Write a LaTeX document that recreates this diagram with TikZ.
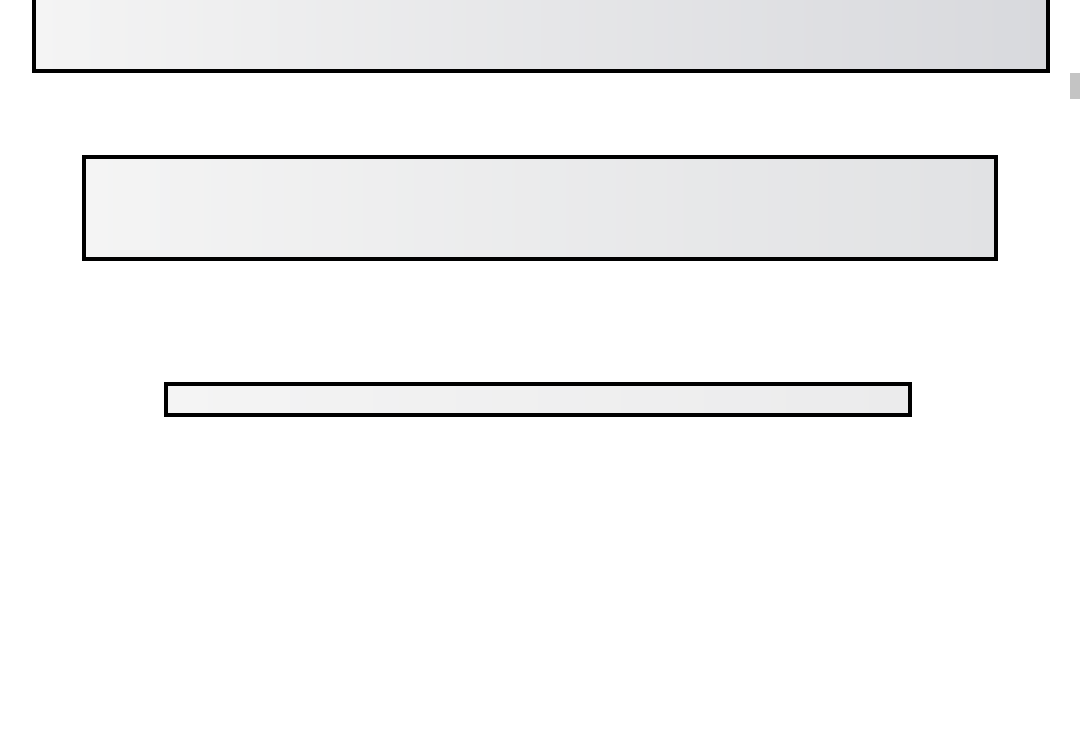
\documentclass[tikz,border=0pt]{standalone}
\usetikzlibrary{positioning}
\usetikzlibrary{shadings}
\tikzstyle{panel}=[rectangle,draw=black,line width=4pt,inner sep=0pt]
\tikzstyle{tabmark}=[rectangle,fill=black!23,inner sep=0pt]
\definecolor{paneldark}{HTML}{D8D9DD}
\definecolor{panelmid}{HTML}{E1E2E4}
\definecolor{panellight}{HTML}{F4F4F4}
\definecolor{panelsoft}{HTML}{EBEBEC}

\begin{document}
\begin{tikzpicture}[x=1pt,y=-1pt]

  \useasboundingbox (0,0) rectangle (1080,740);
  \clip (0,0) rectangle (1080,740);

   \foreach \x/\y/\w/\h/\name/\dark in {541/15.5/1014/111/topbar/paneldark, 540/208/912/102/midbar/panelmid, 538/399.5/744/31/lowbar/panelsoft}
          \node[panel, minimum width=\w pt, minimum height=\h pt, left color=panellight, right color=\dark] (\name) at (\x, \y) {};

  \node[tabmark, minimum width=12pt, minimum height=26pt] (tab) at (1076, 86) {};

   \end{tikzpicture}
\end{document}
